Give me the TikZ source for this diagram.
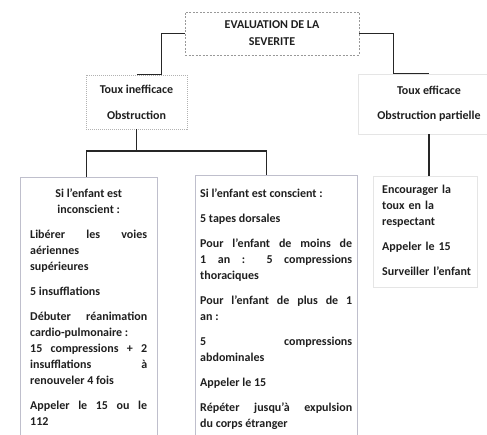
\documentclass[tikz,border=0pt]{standalone}
\usepackage{fontspec}
\setmainfont{Carlito}
\newcommand{\boxsetup}{\setlength{\parskip}{9pt}\hyphenpenalty=10000\exhyphenpenalty=10000\tolerance=10000\hbadness=10000}
\tikzset{
  txt/.style={font=\fontsize{12}{16}\selectfont\bfseries, text=black!88},
  conn/.style={draw=black!85, line width=1.3pt},
  topbox/.style={txt, draw=black!40, dashed, dash pattern=on 2pt off 1.5pt, line width=0.6pt,
    minimum width=174pt, minimum height=43pt, align=center, inner sep=0pt,
    font=\fontsize{12}{17}\selectfont\bfseries},
  smallbox/.style={txt, draw=black!30, dash pattern=on 1pt off 1pt, line width=0.6pt,
    align=center, inner sep=0pt},
  faintbox/.style={txt, draw=black!10, line width=0.6pt, align=center, inner sep=0pt},
  bigtext/.style={txt, anchor=north west, align=justify, inner ysep=9pt},
  bigline/.style={draw=blue!20!black!25, line width=0.7pt},
  faintline/.style={draw=black!10, line width=0.7pt}
}
\begin{document}
\begin{tikzpicture}[x=1pt, y=-1pt]
\useasboundingbox (0,0) rectangle (487,435);

% top
\node[topbox] (top) at (272,33.5) {EVALUATION DE LA\\SEVERITE};

% second level
\node[smallbox, minimum width=101pt, minimum height=54pt] (ti) at (136.5,102)
  {Toux inefficace\\[10pt]Obstruction};
\node[faintbox, minimum width=142pt, minimum height=60pt] (te) at (429,104)
  {Toux efficace\\[9pt]Obstruction partielle};

% third level text
\node[bigtext, text width=117pt, inner xsep=10pt, inner ysep=12pt] (lb) at (20,177) {\boxsetup
{\centering Si l'enfant est\\ inconscient :\par}
Libérer les voies\linebreak aériennes\\ supérieures\par
5 insufflations\par
Débuter réanimation\linebreak cardio-pulmonaire :\\ 15 compressions + 2\linebreak insufflations à\linebreak renouveler 4 fois\par
Appeler le 15 ou le\linebreak 112};

\node[bigtext, text width=152pt, inner xsep=5pt, inner ysep=14pt] (mb) at (195,175) {\boxsetup
Si l'enfant est conscient :\par
5 tapes dorsales\par
Pour l'enfant de moins de\linebreak 1 an : 5 compressions\linebreak thoraciques\par
Pour l'enfant de plus de 1\linebreak an :\par
5 compressions\linebreak abdominales\par
Appeler le 15\par
Répéter jusqu'à expulsion\linebreak du corps étranger};

\node[txt, anchor=north west, text width=92pt, inner xsep=6pt, inner ysep=9pt, align=left] (rb) at (376,176) {\boxsetup
Encourager la\\ toux en la\\ respectant\par
Appeler le 15\par
Surveiller l'enfant};

% box borders for the tall boxes
\draw[bigline] (lb.north west) rectangle (lb.north east |- 0,440);
\draw[bigline] (mb.north west) rectangle (mb.north east |- 0,440);
\draw[faintline] (373,176) rectangle (477,287);

% connectors
\draw[conn] (top.west) -- ++(-23,0) |- (ti.north);
\draw[conn] (top.east) -- ++(34,0) |- (te.north);
\coordinate (j) at (ti.south |- 0,151);
\draw[conn] (ti.south) -- (j);
\draw[conn] (j) -| ([xshift=-2pt]lb.north);
\draw[conn] (j) -| ([xshift=-10pt]mb.north);
\draw[conn] (te.south) -- (te.south |- rb.north);
\end{tikzpicture}
\end{document}
